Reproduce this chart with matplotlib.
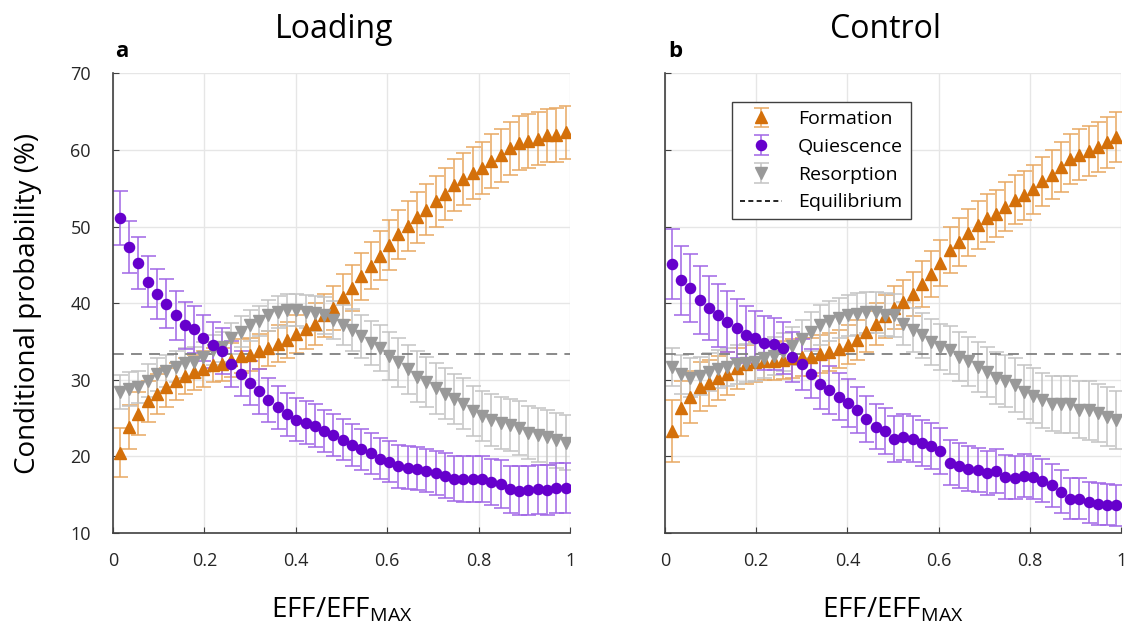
import numpy as np
import matplotlib
matplotlib.use("Agg")
import matplotlib.pyplot as plt
from matplotlib.lines import Line2D

plt.rcParams["font.family"] = ["Open Sans", "DejaVu Sans"]
plt.rcParams["mathtext.default"] = "regular"

# x positions of the 49 bins (EFF/EFF_max)
x = np.linspace(0.015, 0.99, 49)

# ---- Loading (panel a) ----
load_form = [20.5, 23.8, 25.6, 27.2, 28.1, 29.0, 29.8, 30.5, 31.0, 31.4,
             31.9, 32.0, 32.6, 33.1, 33.3, 33.7, 34.1, 34.7, 35.2, 36.0,
             36.6, 37.3, 38.4, 39.4, 40.8, 42.0, 43.5, 44.9, 46.2, 47.6,
             49.0, 50.1, 51.2, 52.2, 53.3, 54.3, 55.4, 56.2, 57.0, 57.7,
             58.6, 59.3, 60.2, 60.9, 61.2, 61.5, 61.9, 62.0, 62.3]
load_form_err = [3.2, 2.9, 2.8, 2.7, 2.6, 2.5, 2.4, 2.4, 2.3, 2.3,
                 2.2, 2.2, 2.2, 2.2, 2.2, 2.3, 2.3, 2.4, 2.4, 2.5,
                 2.6, 2.7, 2.8, 2.9, 3.0, 3.0, 3.1, 3.1, 3.2, 3.2,
                 3.2, 3.3, 3.3, 3.3, 3.3, 3.4, 3.4, 3.4, 3.4, 3.4,
                 3.5, 3.5, 3.5, 3.5, 3.5, 3.5, 3.5, 3.5, 3.5]
load_quie = [51.1, 47.3, 45.3, 42.8, 41.2, 39.9, 38.4, 37.1, 36.6, 35.5,
             34.6, 33.7, 32.1, 30.8, 29.6, 28.5, 27.4, 26.4, 25.5, 24.8,
             24.4, 24.0, 23.3, 22.8, 22.2, 21.5, 20.9, 20.4, 19.7, 19.3,
             18.7, 18.5, 18.4, 18.1, 17.8, 17.5, 17.1, 17.0, 17.1, 17.0,
             16.6, 16.4, 15.7, 15.5, 15.6, 15.7, 15.6, 15.9, 15.9]
load_quie_err = [3.5, 3.4, 3.4, 3.3, 3.3, 3.2, 3.2, 3.1, 3.1, 3.0,
                 3.0, 3.0, 3.0, 2.9, 2.9, 2.9, 2.9, 2.8, 2.8, 2.8,
                 2.8, 2.8, 2.7, 2.7, 2.7, 2.7, 2.7, 2.7, 2.7, 2.7,
                 2.8, 2.8, 2.8, 2.8, 2.9, 2.9, 2.9, 3.0, 3.0, 3.0,
                 3.0, 3.1, 3.1, 3.2, 3.2, 3.2, 3.3, 3.3, 3.3]
load_reso = [28.4, 28.8, 29.1, 29.9, 30.7, 31.2, 31.7, 32.2, 32.3, 33.0,
             33.9, 34.3, 35.4, 36.3, 37.1, 37.7, 38.4, 38.9, 39.1, 39.1,
             38.9, 38.7, 38.4, 37.8, 37.2, 36.5, 35.7, 34.8, 34.1, 33.1,
             32.3, 31.4, 30.4, 29.7, 28.9, 28.2, 27.5, 26.9, 25.9, 25.3,
             24.8, 24.3, 24.1, 23.7, 23.1, 22.8, 22.5, 22.1, 21.8]
load_reso_err = [2.2, 2.2, 2.1, 2.1, 2.1, 2.1, 2.0, 2.0, 2.0, 2.0,
                 2.0, 2.0, 2.0, 2.0, 2.0, 2.0, 2.0, 2.1, 2.1, 2.1,
                 2.2, 2.3, 2.4, 2.5, 2.6, 2.7, 2.8, 2.9, 3.0, 3.1,
                 3.2, 3.2, 3.3, 3.3, 3.3, 3.3, 3.3, 3.3, 3.3, 3.3,
                 3.4, 3.4, 3.4, 3.5, 3.5, 3.5, 3.6, 3.6, 3.6]

# ---- Control (panel b) ----
ctrl_form = [23.3, 26.3, 27.8, 29.1, 29.6, 30.2, 30.8, 31.5, 32.0, 32.3,
             32.5, 32.5, 32.6, 32.8, 33.0, 33.0, 33.4, 33.6, 34.0, 34.6,
             35.2, 36.3, 37.3, 38.3, 39.4, 40.1, 41.2, 42.5, 43.8, 45.2,
             46.9, 48.0, 49.2, 50.2, 51.1, 51.7, 52.6, 53.5, 54.1, 54.9,
             55.9, 56.8, 57.8, 58.8, 59.4, 59.9, 60.4, 61.0, 61.7]
ctrl_form_err = [4.0, 3.6, 3.4, 3.2, 3.0, 2.9, 2.8, 2.7, 2.6, 2.6,
                 2.5, 2.5, 2.5, 2.5, 2.5, 2.5, 2.5, 2.5, 2.5, 2.6,
                 2.6, 2.7, 2.7, 2.8, 2.8, 2.9, 2.9, 3.0, 3.0, 3.0,
                 3.0, 3.1, 3.1, 3.1, 3.1, 3.1, 3.2, 3.2, 3.2, 3.2,
                 3.2, 3.2, 3.3, 3.3, 3.3, 3.3, 3.3, 3.3, 3.3]
ctrl_quie = [45.1, 43.0, 42.0, 40.4, 39.4, 38.4, 37.6, 36.7, 35.9, 35.4,
             34.8, 34.7, 34.1, 33.0, 32.0, 30.8, 29.4, 28.7, 27.8, 27.0,
             26.1, 24.9, 23.9, 23.3, 22.3, 22.5, 22.3, 21.7, 21.3, 20.7,
             19.2, 18.8, 18.4, 18.2, 17.8, 18.1, 17.3, 17.2, 17.5, 17.3,
             16.8, 16.2, 15.4, 14.5, 14.5, 14.0, 13.8, 13.7, 13.6]
ctrl_quie_err = [4.6, 4.5, 4.4, 4.4, 4.2, 4.1, 4.0, 3.8, 3.7, 3.6,
                 3.5, 3.4, 3.4, 3.3, 3.3, 3.2, 3.2, 3.1, 3.1, 3.1,
                 3.0, 3.0, 3.0, 3.0, 3.0, 3.0, 3.0, 3.0, 3.0, 3.0,
                 3.0, 2.9, 2.9, 2.9, 2.9, 2.9, 2.9, 2.8, 2.8, 2.8,
                 2.8, 2.8, 2.8, 2.7, 2.7, 2.7, 2.7, 2.7, 2.7]
ctrl_reso = [31.7, 30.7, 30.3, 30.5, 31.0, 31.4, 31.7, 32.0, 32.2, 32.3,
             32.8, 33.1, 33.6, 34.4, 35.3, 36.3, 37.2, 37.7, 38.1, 38.4,
             38.6, 38.8, 38.8, 38.5, 38.4, 37.3, 36.5, 35.8, 34.9, 34.3,
             33.9, 33.0, 32.4, 31.7, 31.0, 30.2, 29.9, 29.3, 28.4, 27.9,
             27.3, 26.9, 26.8, 26.8, 26.1, 26.0, 25.7, 25.2, 24.7]
ctrl_reso_err = [2.5, 2.5, 2.5, 2.5, 2.5, 2.5, 2.5, 2.5, 2.5, 2.5,
                 2.5, 2.5, 2.5, 2.5, 2.5, 2.6, 2.6, 2.6, 2.6, 2.7,
                 2.7, 2.7, 2.7, 2.8, 2.8, 2.8, 2.9, 2.9, 3.0, 3.0,
                 3.1, 3.2, 3.2, 3.3, 3.3, 3.4, 3.4, 3.5, 3.5, 3.6,
                 3.6, 3.6, 3.7, 3.7, 3.7, 3.8, 3.8, 3.8, 3.8]

equilibrium = 100 / 3

# colours
c_form, e_form = "#D4700A", "#E8A862"
c_quie, e_quie = "#6600CC", "#A066E6"
c_reso, e_reso = "#999999", "#C4C4C4"

fig = plt.figure(figsize=(11.26, 6.33), dpi=100)
ax1 = fig.add_axes([0.1004, 0.158, 0.4059, 0.726])
ax2 = fig.add_axes([0.5906, 0.158, 0.405, 0.726])

panels = [
    (ax1, load_form, load_form_err, load_quie, load_quie_err, load_reso, load_reso_err),
    (ax2, ctrl_form, ctrl_form_err, ctrl_quie, ctrl_quie_err, ctrl_reso, ctrl_reso_err),
]

eb_kw = dict(linestyle="none", capsize=5.4, elinewidth=1.1, capthick=1.1)

for ax, f, fe, q, qe, r, re in panels:
    ax.errorbar(x, f, yerr=fe, marker="^", ms=8, color=c_form, ecolor=e_form,
                mec=c_form, label="Formation", **eb_kw)
    ax.errorbar(x, r, yerr=re, marker="v", ms=8, color=c_reso, ecolor=e_reso,
                mec=c_reso, label="Resorption", **eb_kw)
    ax.errorbar(x, q, yerr=qe, marker="o", ms=7.3, color=c_quie, ecolor=e_quie,
                mec=c_quie, label="Quiescence", **eb_kw)
    ax.axhline(equilibrium, color="#808080", ls=(0, (6, 4)), lw=1.3)

    ax.set_xlim(0, 1)
    ax.set_ylim(10, 70)
    ax.set_xticks([0, 0.2, 0.4, 0.6, 0.8, 1])
    ax.set_xticklabels(["0", "0.2", "0.4", "0.6", "0.8", "1"])
    ax.set_yticks(range(10, 71, 10))
    ax.grid(True, color="#E6E6E6", lw=1)
    ax.set_axisbelow(True)
    for s in ["top", "right"]:
        ax.spines[s].set_visible(False)
    for s in ["left", "bottom"]:
        ax.spines[s].set_color("#404040")
        ax.spines[s].set_linewidth(1.2)
    ax.tick_params(direction="in", length=4, color="#404040", labelsize=13,
                   labelcolor="#262626")
    ax.tick_params(axis="x", pad=14)
    ax.tick_params(axis="y", pad=16)

ax2.tick_params(axis="y", labelleft=False)

# legend in the right panel, in the order shown in the figure
h, l = ax2.get_legend_handles_labels()
eq_handle = Line2D([], [], color="black", ls=(0, (3, 2)), lw=1.2)
handles = [h[l.index("Formation")], h[l.index("Quiescence")],
           h[l.index("Resorption")], eq_handle]
labels = ["Formation", "Quiescence", "Resorption", "Equilibrium"]
leg = ax2.legend(handles, labels,
                 loc="upper left", bbox_to_anchor=(0.125, 0.958), fontsize=14,
                 fancybox=False, framealpha=1, edgecolor="#404040",
                 borderpad=0.4, labelspacing=0.5, handlelength=2.2,
                 handletextpad=0.8)
leg.get_frame().set_linewidth(1.0)

# titles, panel letters and axis labels
fig.text(0.2966, 1 - 38 / 633, "Loading", fontsize=23, ha="center", va="baseline")
fig.text(0.786, 1 - 38 / 633, "Control", fontsize=23, ha="center", va="baseline")
fig.text(115 / 1126, 1 - 57 / 633, "a", fontsize=16, weight="bold", va="baseline")
fig.text(668 / 1126, 1 - 57 / 633, "b", fontsize=16, weight="bold", va="baseline")
fig.text(28 / 1126, 0.521, "Conditional probability (%)", fontsize=20,
         rotation=90, ha="center", va="center")
for ax in (ax1, ax2):
    pos = ax.get_position()
    fig.text(pos.x0 + pos.width / 2, 1 - 617 / 633, "EFF/EFF$_{MAX}$",
             fontsize=20, ha="center", va="baseline")

fig.savefig("out.png", dpi=100)
